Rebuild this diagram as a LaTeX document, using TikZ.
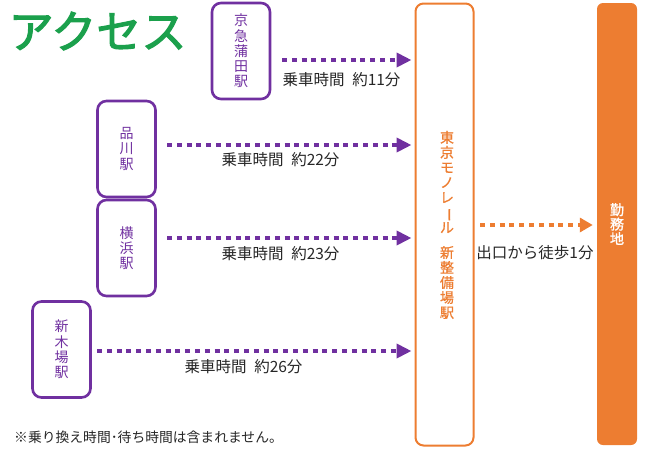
\documentclass[tikz,border=0pt]{standalone}
\usepackage{fontspec}
\setmainfont{Noto Sans CJK JP}
\newfontfamily\titlefont[FakeBold=2.5]{Noto Sans CJK JP}
\newfontfamily\boldcjk[FakeBold=1.5]{Noto Sans CJK JP}
\newfontfamily\medcjk[FakeBold=0.6]{Noto Sans CJK JP}
\usetikzlibrary{arrows.meta}
\definecolor{pur}{HTML}{7030A0}
\definecolor{org}{HTML}{ED7D31}
\definecolor{ttl}{HTML}{1BA04C}
\tikzset{
  station/.style={draw=pur, line width=2.6pt, rounded corners=9pt, fill=white,
    minimum width=58pt, minimum height=96pt, inner sep=0pt, align=center,
    text=pur, font=\fontsize{14}{15.2}\selectfont},
  mono/.style={draw=org, line width=2pt, rounded corners=8pt, fill=white,
    minimum width=58pt, minimum height=442pt, inner sep=0pt},
  monotext/.style={align=center, text=org, inner sep=0pt,
    font=\medcjk\fontsize{14}{15}\selectfont},
  dest/.style={fill=org, rounded corners=6pt, minimum width=40pt,
    minimum height=442pt, inner sep=0pt, align=center, text=white,
    font=\boldcjk\fontsize{14}{14.5}\selectfont},
  parrow/.style={draw=pur, line width=4.5pt, dash pattern=on 5pt off 4.8pt,
    -{Triangle[length=15pt,width=14pt]}, shorten >=3pt},
  oarrow/.style={draw=org, line width=4.5pt, dash pattern=on 5pt off 4.8pt,
    -{Triangle[length=13pt,width=14pt]}, shorten >=4pt},
  lbl/.style={inner sep=0pt, font=\fontsize{15.5}{16}\selectfont, text=black!85},
}
\begin{document}
\begin{tikzpicture}[x=1pt,y=-1pt]
\useasboundingbox (0,0) rectangle (650,450);
% title
\node[text=ttl, font=\titlefont\fontsize{45}{45}\selectfont, inner sep=0pt] (title) at (97.5,31) {アクセス};
% stations
\node[station] (kk) at (241,51) {京\\急\\蒲\\田\\駅};
\node[station] (sg) at (126.5,149) {品\\川\\駅};
\node[station] (yh) at (126.5,248) {横\\浜\\駅};
\node[station] (sk) at (61.5,349.5) {新\\木\\場\\駅};
% monorail
\node[mono] (mr) at (444.5,224.5) {};
\node[monotext] (mr1) at (447,182) {東\\京\\モ\\ノ\\レ\\\rotatebox[origin=c]{-90}{ー}\\ル};
\node[monotext] (mr2) at (447,282.5) {新\\整\\備\\場\\駅};
% destination
\node[dest] (ds) at (617,224) {勤\\務\\地};
% arrow start points
\coordinate (s1) at (282,60);
\coordinate (s2) at (167,145);
\coordinate (s3) at (167,238);
\coordinate (s4) at (97,351);
\coordinate (s5) at (480,225);
\draw[parrow] (s1) -- (mr.west |- s1);
\draw[parrow] (s2) -- (mr.west |- s2);
\draw[parrow] (s3) -- (mr.west |- s3);
\draw[parrow] (s4) -- (mr.west |- s4);
\draw[oarrow] (s5) -- (ds.west |- s5);
% labels
\node[lbl] (l1) at (341.5,80) {乗車時間\hspace{0.5em}約11分};
\node[lbl] (l2) at (280.5,160) {乗車時間\hspace{0.5em}約22分};
\node[lbl] (l3) at (280.5,254) {乗車時間\hspace{0.5em}約23分};
\node[lbl] (l4) at (243.5,367) {乗車時間\hspace{0.5em}約26分};
\node[lbl] (l5) at (535,253) {出口から徒歩1分};
% footnote
\node[anchor=west, inner sep=0pt, font=\fontsize{13.8}{14}\selectfont, text=black!85] (fn) at (14,437) {※乗り換え時間･待ち時間は含まれません。};
\end{tikzpicture}
\end{document}
